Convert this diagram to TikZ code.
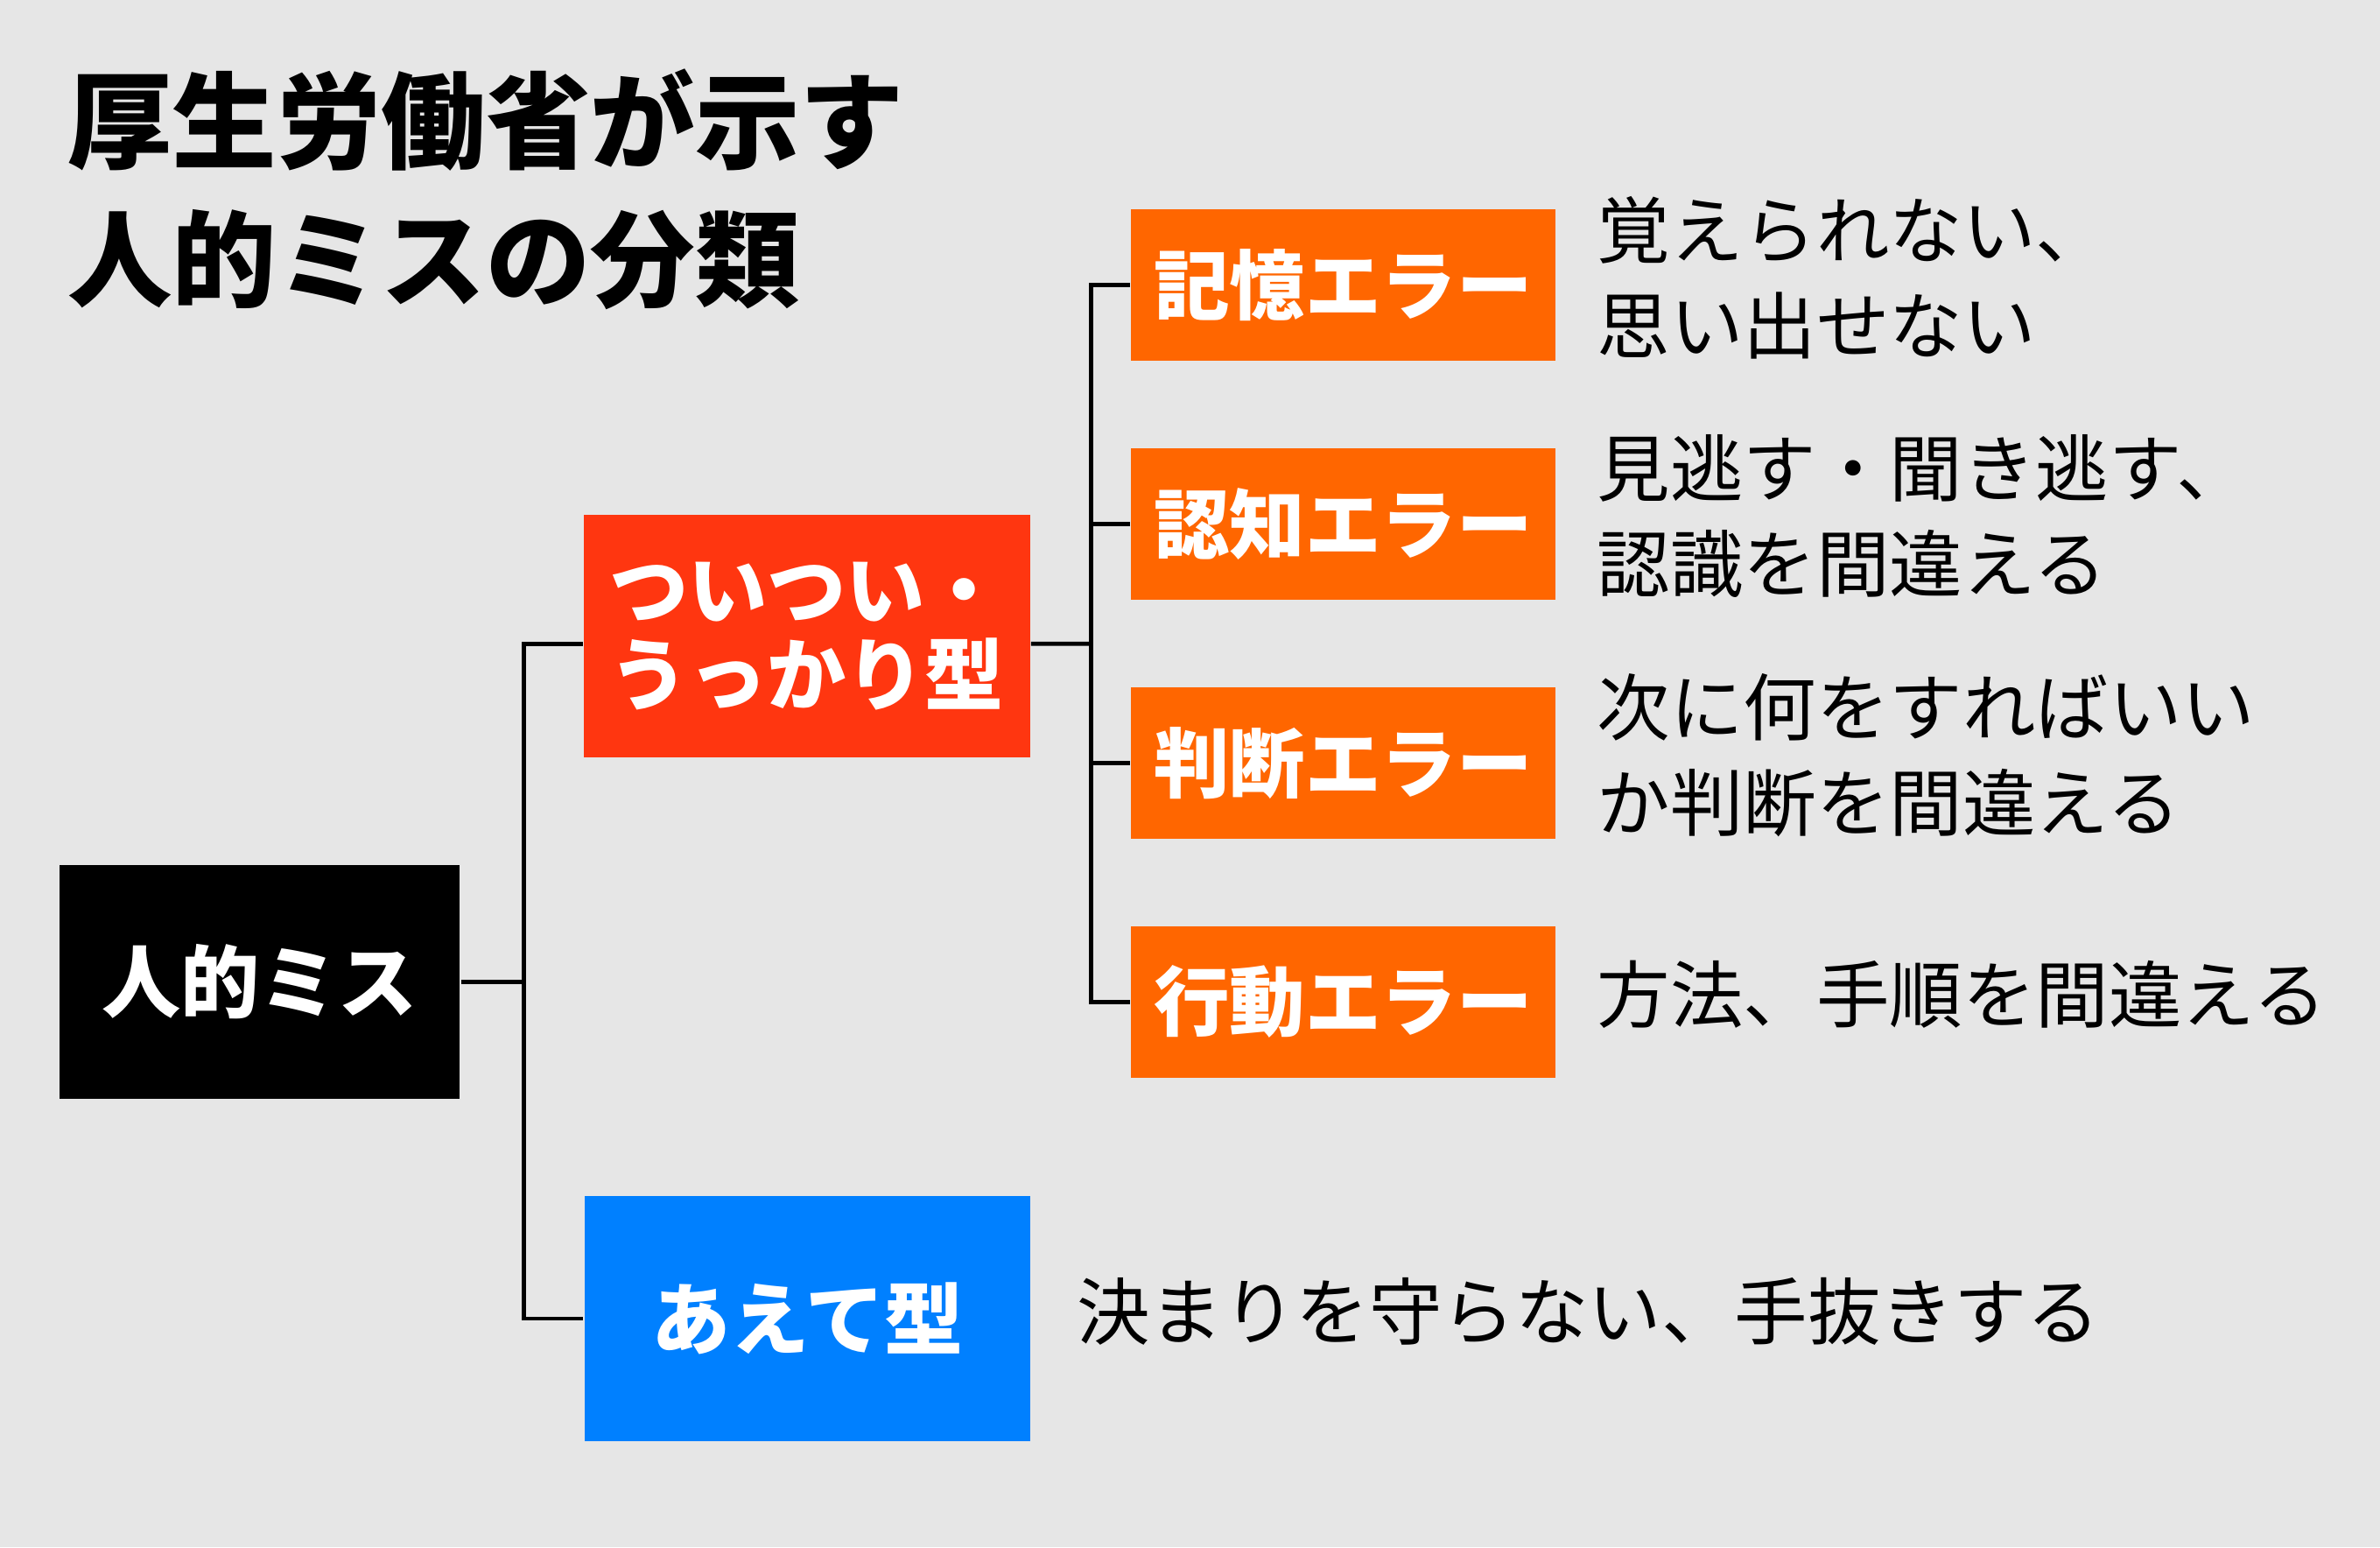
\documentclass[tikz,border=0pt]{standalone}
\usepackage{fontspec}
\newfontfamily\jp{Noto Sans CJK JP}
\usetikzlibrary{positioning}
\definecolor{bggray}{RGB}{230,230,230}
\definecolor{tsuired}{RGB}{255,54,16}
\definecolor{errorange}{RGB}{255,102,0}
\definecolor{aeteblue}{RGB}{0,128,255}

\begin{document}
\begin{tikzpicture}[align=center,node distance=0.56cm]
\tikzstyle{title}=[align=left,inner sep=0pt,font={\jp\bfseries\fontsize{19.6pt}{25.9pt}\selectfont}]
\tikzstyle{typebox}=[inner sep=0pt,text=white,minimum width=2.94cm,minimum height=1.6cm,font={\jp\bfseries\fontsize{14.8pt}{15.9pt}\selectfont}]
\tikzstyle{errbox}=[fill=errorange,inner sep=0pt,text=white,minimum width=2.8cm,minimum height=1cm,font={\jp\bfseries\fontsize{14.2pt}{15.9pt}\selectfont}]
\tikzstyle{desc}=[align=left,inner sep=0pt,yshift=0.05cm,font={\jp\fontsize{13.7pt}{17.9pt}\selectfont}]
\tikzstyle{link}=[line width=0.8pt,black]

\fill[bggray] (0,0) rectangle (15.68,-10.19);
\useasboundingbox (0,0) rectangle (15.68,-10.19);

\node[title,anchor=base west] (ttl) at (0.44,-1.97) {厚生労働省が示す\\人的ミスの分類};

% left side
\node[typebox,fill=black,minimum width=2.64cm,minimum height=1.54cm] (hum) at (1.71,-6.465) {人的ミス};
\node[typebox,fill=tsuired] (tsui) at (5.315,-4.19) {ついつい・\\うっかり型};
\node[typebox,fill=aeteblue,minimum height=1.61cm] (aete) at (5.32,-8.685) {あえて型};
\node[desc] (daete) [right=0.29cm of aete] {決まりを守らない、手抜きする};

% error types
\node[errbox] (mem) at (8.85,-1.877) {記憶エラー};
\node[errbox] (cog) [below=of mem] {認知エラー};
\node[errbox] (jud) [below=of cog] {判断エラー};
\node[errbox] (act) [below=of jud] {行動エラー};

\node[desc] (dmem) [right=0.26cm of mem] {覚えられない、\\思い出せない};
\node[desc] (dcog) [right=0.26cm of cog] {見逃す・聞き逃す、\\認識を間違える};
\node[desc] (djud) [right=0.26cm of jud] {次に何をすればいい\\か判断を間違える};
\node[desc] (dact) [right=0.26cm of act] {方法、手順を間違える};

% connectors
\coordinate (hj) at (3.45,-6.465);
\coordinate (tj) at (7.19,-4.24);
\draw[link] (hum.east) -- (hj);
\draw[link] ([yshift=-0.05cm]tsui.west) -| (hj) |- (aete.west);
\draw[link] ([yshift=-0.05cm]tsui.east) -- (tj);
\draw[link] (mem.west) -| (tj) |- (act.west);
\foreach \e in {cog,jud}
  \draw[link] (\e.west) -- (tj |- \e.west);
\end{tikzpicture}
\end{document}
